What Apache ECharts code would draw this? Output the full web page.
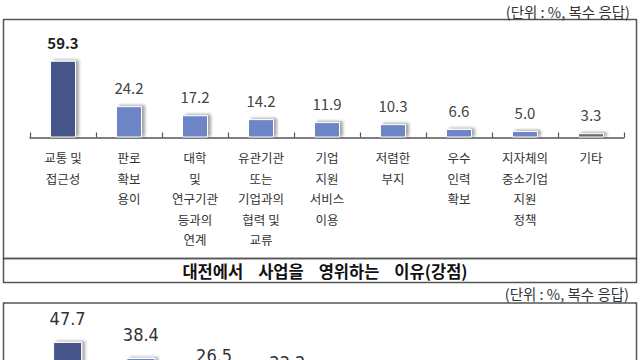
<!DOCTYPE html>
<html>
<head>
<meta charset="utf-8">
<script src="https://cdn.jsdelivr.net/npm/echarts@6/dist/echarts.min.js"></script>
<style>
html,body{margin:0;padding:0;background:#fff;}
#c{width:640px;height:360px;}
</style>
</head>
<body>
<div id="c"></div>
<script>
// ---- data ----
var topCategories = ['교통 및\n접근성', '판로\n확보\n용이', '대학\n및\n연구기관\n등과의\n연계', '유관기관\n또는\n기업과의\n협력 및\n교류', '기업\n지원\n서비스\n이용', '저렴한\n부지', '우수\n인력\n확보', '지자체의\n중소기업\n지원\n정책', '기타'];
var topValues = [59.3, 24.2, 17.2, 14.2, 11.9, 10.3, 6.6, 5.0, 3.3];
var bottomCategories = ['', '', '', '', '', '', '', ''];
var bottomValues = [47.7, 38.4, 26.5, 22.2, null, null, null, null];
var chartTitle = '대전에서    사업을    영위하는    이유(강점)';
var unitText = '(단위 : %, 복수 응답)';

var NAVY = '#45548a', BLUE = '#6d85c7', GRAY = '#6a6a6a';
var FONT = '"Noto Sans CJK KR", "Noto Sans", sans-serif';
var NARROW = '"Liberation Sans Narrow", "DejaVu Sans Condensed", "Liberation Sans", sans-serif';

function barData(vals, isTop) {
  return vals.map(function (v, i) {
    var c = i === 0 ? NAVY : BLUE;
    if (isTop && i === vals.length - 1) c = GRAY;
    var d = { value: v, itemStyle: { color: c } };
    if (isTop && i === 0) d.label = { fontWeight: 'bold', color: '#222' };
    return d;
  });
}

var barItemStyle = {
  borderColor: '#fff',
  borderWidth: 1,
  shadowColor: 'rgba(0,0,0,0.35)',
  shadowBlur: 3,
  shadowOffsetX: 3,
  shadowOffsetY: -1
};

var chart = echarts.init(document.getElementById('c'), null, { renderer: 'svg' });
chart.setOption({
  backgroundColor: '#fff',
  animation: false,
  textStyle: { fontFamily: FONT },
  grid: [
    { left: 30, right: 16, top: 46.9, height: 90.6, outerBoundsMode: 'none', containLabel: false },
    { left: 31, right: 23, top: 320.8, height: 103.2, outerBoundsMode: 'none', containLabel: false }
  ],
  xAxis: [
    {
      type: 'category', gridIndex: 0, data: topCategories,
      axisLine: { lineStyle: { color: '#555', width: 1.5 } },
      axisTick: { show: true, inside: true, length: 5, lineStyle: { color: '#555', width: 1.2 } },
      axisLabel: { interval: 0, color: '#333', fontSize: 12.5, lineHeight: 20.5, margin: 10, fontFamily: FONT }
    },
    {
      type: 'category', gridIndex: 1, data: bottomCategories,
      axisLine: { lineStyle: { color: '#555', width: 1.5 } },
      axisTick: { show: true, inside: true, length: 5 },
      axisLabel: { show: false }
    }
  ],
  yAxis: [
    { type: 'value', gridIndex: 0, min: 0, max: 70, show: false, splitLine: { show: false } },
    { type: 'value', gridIndex: 1, min: 0, max: 60, show: false, splitLine: { show: false } }
  ],
  series: [
    {
      type: 'bar', xAxisIndex: 0, yAxisIndex: 0, barWidth: 26,
      data: barData(topValues, true),
      itemStyle: barItemStyle,
      label: {
        show: true, position: 'top', distance: 11, fontSize: 15, color: '#444',
        fontFamily: FONT,
        formatter: function (p) { return p.value.toFixed(1); }
      }
    },
    {
      type: 'bar', xAxisIndex: 1, yAxisIndex: 1, barWidth: 29,
      data: barData(bottomValues, false),
      itemStyle: barItemStyle,
      label: {
        show: true, position: 'top', distance: 14, fontSize: 18, color: '#333',
        fontFamily: NARROW,
        formatter: function (p) { return p.value == null ? '' : p.value.toFixed(1); }
      }
    }
  ],
  graphic: [
    { type: 'rect', shape: { x: 3.5, y: 19.5, width: 633, height: 239 }, style: { fill: 'none', stroke: '#555', lineWidth: 1.5 }, z: -1 },
    { type: 'rect', shape: { x: 3.5, y: 258.5, width: 633, height: 24 }, style: { fill: 'none', stroke: '#555', lineWidth: 1.5 }, z: -1 },
    { type: 'rect', shape: { x: 3.5, y: 303, width: 633, height: 120 }, style: { fill: 'none', stroke: '#555', lineWidth: 1.5 }, z: -1 },
    { type: 'text', x: 325, y: 270.5, style: { text: chartTitle, fill: '#111', font: 'bold 16.5px ' + FONT, textAlign: 'center', textVerticalAlign: 'middle' } },
    { type: 'text', x: 630, y: 11, style: { text: unitText, fill: '#333', font: '14.5px ' + FONT, textAlign: 'right', textVerticalAlign: 'middle' } },
    { type: 'text', x: 629, y: 293, style: { text: unitText, fill: '#333', font: '14.5px ' + FONT, textAlign: 'right', textVerticalAlign: 'middle' } }
  ]
});
</script>
</body>
</html>
